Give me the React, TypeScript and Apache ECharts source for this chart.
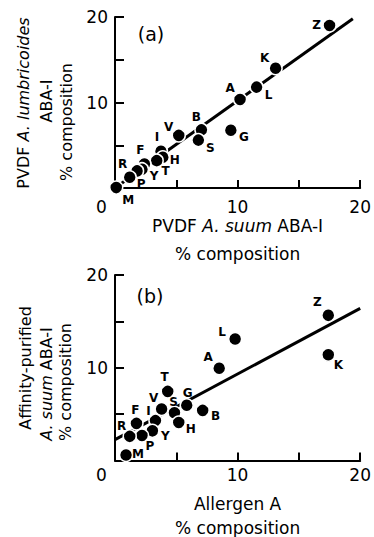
import React, { useEffect, useRef } from 'react';
import * as echarts from 'echarts';

// Amino-acid codes (one point each, same order in both panels)
const codes = ['Z', 'K', 'L', 'A', 'B', 'S', 'G', 'V', 'I', 'H', 'T', 'F', 'Y', 'P', 'R', 'M'];

// Panel (a): PVDF A. suum ABA-1 (x) vs PVDF A. lumbricoides ABA-1 (y), % composition
const pvdfSuum = [17.5, 13.1, 11.55, 10.2, 7.05, 6.8, 9.45, 5.2, 3.75, 3.9, 3.4, 2.4, 2.2, 1.8, 1.2, 0.1];
const pvdfLumbricoides = [19.0, 14.0, 11.8, 10.35, 6.8, 5.6, 6.75, 6.15, 4.3, 3.6, 3.2, 2.8, 2.2, 2.0, 1.25, 0.05];

// Panel (b): Allergen A (x) vs affinity-purified A. suum ABA-1 (y), % composition
const allergenA = [17.4, 17.4, 9.8, 8.5, 7.15, 4.85, 5.85, 3.8, 3.3, 5.2, 4.3, 1.75, 3.05, 2.2, 1.2, 0.9];
const affinitySuum = [15.65, 11.4, 13.1, 9.95, 5.4, 5.15, 5.95, 5.55, 4.3, 4.1, 7.45, 4.0, 3.2, 2.7, 2.6, 0.6];

// Fitted lines (end points)
const fitA = [[0, 0], [19.4, 19.8]];
const fitB = [[0, 2.25], [20, 16.4]];

// Axis ticks
const axisMin = 0;
const axisMax = 20;
const tickStep = 5;

// Label placement (style, pixel offsets from dot centre)
const offsetsA: Record<string, number[]> = {
  Z: [-13, -1], K: [-11, -10], L: [12, 8], A: [-10, -12], B: [-5, -13], S: [12, 8], G: [13, 7],
  V: [-10, -8], I: [-4, -14], H: [12, 3], T: [9, 10], F: [-4, -14], Y: [12, 7], P: [4, 13],
  R: [-7, -13], M: [12, 12],
};
const offsetsB: Record<string, number[]> = {
  Z: [-11, -13], K: [10, 10], L: [-13, -7], A: [-11, -11], B: [13, 6], S: [-1, -11], G: [1, -12],
  V: [-8, -11], I: [-7, -10], H: [12, 7], T: [-3, -14], F: [-1, -13], Y: [13, 5], P: [8, 11],
  R: [-8, -10], M: [12, -1],
};

const FONT = 'DejaVu Sans';

const richY = {
  n: { fontFamily: FONT, fontSize: 16, color: '#000', lineHeight: 27 },
  i: { fontFamily: FONT, fontSize: 16, color: '#000', fontStyle: 'italic', lineHeight: 27 },
};
const richX = (lh: number) => ({
  n: { fontFamily: FONT, fontSize: 17, color: '#000', lineHeight: lh },
  i: { fontFamily: FONT, fontSize: 17, color: '#000', fontStyle: 'italic', lineHeight: lh },
});

function makeX(gridIndex: number, name: string, nameGap: number, labelMargin: number, lh: number) {
  return {
    type: 'value',
    gridIndex,
    min: axisMin,
    max: axisMax,
    interval: tickStep,
    axisLine: { show: true, onZero: false, lineStyle: { color: '#000', width: 2 } },
    axisTick: { show: true, inside: true, length: 8, lineStyle: { color: '#000', width: 2 } },
    splitLine: { show: false },
    axisLabel: {
      margin: labelMargin,
      color: '#000',
      fontFamily: FONT,
      fontSize: 17,
      formatter: (v: number) => (v === 0 ? '{z|0}' : v % 10 === 0 ? String(v) : ''),
      rich: { z: { fontFamily: FONT, fontSize: 17, color: '#000', padding: [0, 27, 0, 0] } },
    },
    name,
    nameLocation: 'middle',
    nameGap,
    nameTextStyle: { rich: richX(lh) },
  };
}

function makeY(gridIndex: number) {
  return {
    type: 'value',
    gridIndex,
    min: axisMin,
    max: axisMax,
    interval: tickStep,
    axisLine: { show: true, onZero: false, lineStyle: { color: '#000', width: 2 } },
    axisTick: { show: true, inside: true, length: 9, lineStyle: { color: '#000', width: 2 } },
    splitLine: { show: false },
    axisLabel: {
      margin: 7,
      color: '#000',
      fontFamily: FONT,
      fontSize: 17,
      formatter: (v: number) => (v !== 0 && v % 10 === 0 ? String(v) : ''),
    },
  };
}

function points(xs: number[], ys: number[], offsets: Record<string, number[]>) {
  return codes.map((c, i) => ({
    name: c,
    value: [xs[i], ys[i]],
    label: { offset: offsets[c] },
  }));
}

function scatter(idx: number, data: any[]) {
  return {
    type: 'scatter',
    xAxisIndex: idx,
    yAxisIndex: idx,
    data,
    symbolSize: 13,
    z: 5,
    itemStyle: { color: '#000', borderColor: '#fff', borderWidth: 1.5, opacity: 1 },
    label: {
      show: true,
      position: 'inside',
      formatter: '{b}',
      color: '#000',
      fontFamily: FONT,
      fontWeight: 'bold',
      fontSize: 12,
    },
  };
}

function fitLine(idx: number, data: number[][]) {
  return {
    type: 'line',
    xAxisIndex: idx,
    yAxisIndex: idx,
    data,
    showSymbol: false,
    symbol: 'none',
    z: 2,
    lineStyle: { color: '#000', width: 3 },
  };
}

function yTitle(x: number, y: number, text: string) {
  return {
    type: 'text',
    x,
    y,
    rotation: Math.PI / 2,
    style: { text, rich: richY, align: 'center', verticalAlign: 'middle' },
  };
}

const option = {
  animation: false,
  backgroundColor: '#fff',
  grid: [
    { left: 115, top: 17, width: 247, height: 171 },
    { left: 115, top: 275, width: 247, height: 189 },
  ],
  xAxis: [
    makeX(0, '{n|PVDF }{i|A. suum}{n| ABA-I}\n{n|% composition}', 24, 10, 28),
    makeX(1, '{n|Allergen A}\n{n|% composition}', 31, 6, 24),
  ],
  yAxis: [makeY(0), makeY(1)],
  series: [
    fitLine(0, fitA),
    scatter(0, points(pvdfSuum, pvdfLumbricoides, offsetsA)),
    fitLine(1, fitB),
    scatter(1, points(allergenA, affinitySuum, offsetsB)),
  ],
  graphic: [
    {
      type: 'text', x: 151, y: 34,
      style: { text: '(a)', fontFamily: FONT, fontSize: 19, fill: '#000', align: 'center', verticalAlign: 'middle' },
    },
    {
      type: 'text', x: 150, y: 296,
      style: { text: '(b)', fontFamily: FONT, fontSize: 19, fill: '#000', align: 'center', verticalAlign: 'middle' },
    },
    yTitle(23, 103, '{n|PVDF }{i|A. lumbricoides}'),
    yTitle(46, 101, '{n|ABA-I}'),
    yTitle(66, 122, '{n|% composition}'),
    yTitle(25, 368, '{n|Affinity-purified}'),
    yTitle(46, 384, '{i|A. suum}{n| ABA-I}'),
    yTitle(65, 382, '{n|% composition}'),
  ],
};

export default function App() {
  const ref = useRef<HTMLDivElement>(null);
  useEffect(() => {
    document.body.style.margin = '0';
    const chart = echarts.init(ref.current!, null, { renderer: 'svg' });
    chart.setOption(option as any);
    return () => chart.dispose();
  }, []);
  return <div ref={ref} style={{ width: 374, height: 537 }} />;
}
